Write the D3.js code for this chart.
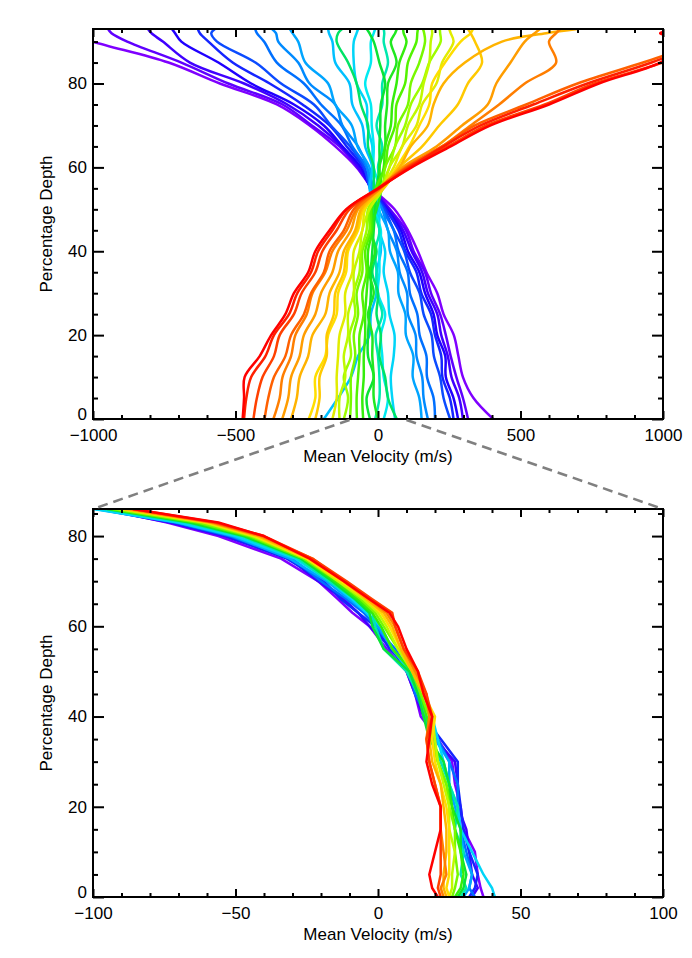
<!DOCTYPE html>
<html>
<head>
<meta charset="utf-8">
<script src="https://cdn.jsdelivr.net/npm/d3@7"></script>
<style>
  body { margin: 0; background: #fff; }
</style>
</head>
<body>
<svg id="chart" width="692" height="958"></svg>
<script>
// ---- data ----
// upper panel: percentage depth levels and mean velocity (m/s) per profile, purple -> red
var depthsTop = [0, 5, 10, 15, 20, 25, 30, 35, 40, 45, 50, 55, 60, 65, 70, 75, 80, 85, 90, 92, 93];
var velocityTop = [
  [404, 335, 298, 282, 266, 230, 208, 170, 140, 105, 58, -20, -75, -150, -240, -355, -555, -735, -1000, -1080, -1120],
  [316, 298, 275, 255, 238, 218, 186, 165, 125, 98, 42, -18, -72, -135, -232, -335, -525, -690, -880, -935, -947],
  [298, 285, 258, 245, 222, 208, 175, 155, 118, 88, 38, -22, -68, -128, -210, -318, -470, -660, -755, -795, -807],
  [281, 265, 238, 236, 208, 195, 165, 145, 105, 80, 32, -25, -60, -125, -190, -295, -445, -560, -690, -712, -723],
  [265, 252, 226, 222, 200, 186, 152, 135, 96, 72, 28, -20, -52, -110, -170, -265, -380, -510, -595, -625, -632],
  [253, 230, 218, 196, 188, 160, 146, 112, 92, 56, 22, -28, -48, -98, -165, -225, -340, -430, -565, -585, -572],
  [200, 195, 172, 170, 146, 138, 112, 104, 72, 55, 15, -15, -40, -90, -128, -200, -260, -355, -400, -425, -431],
  [175, 160, 155, 135, 132, 105, 102, 76, 66, 35, 15, -25, -38, -70, -125, -150, -240, -280, -350, -358, -372],
  [153, 145, 122, 124, 98, 96, 72, 70, 42, 35, 2, -20, -30, -72, -92, -150, -175, -255, -280, -300, -309],
  [-190, -140, -95, -70, -30, -25, -5, -5, 10, 5, -5, -30, -20, -45, -55, -90, -100, -150, -160, -172, -175],
  [60, 50, 45, 55, 58, 40, 35, 20, 25, 5, 5, -10, -20, -20, -38, -40, -75, -85, -85, -75, -70],
  [20, 35, 20, 15, 10, 25, 0, 5, 5, 10, -10, 5, -15, -15, -22, -25, -45, -25, -25, -15, -10],
  [-10, 5, 5, 0, -8, 15, -5, -5, -10, 5, -15, 10, 0, 15, -5, 15, 15, 35, 20, 22, 20],
  [66, 35, 25, 5, 10, -5, 0, -20, -5, -25, -10, -15, -15, -35, -35, -60, -75, -105, -145, -140, -126],
  [-28, -40, -15, -35, -35, -30, -25, -25, -20, -15, -10, -5, 5, 5, 8, 10, 25, 5, -15, -30, -39],
  [0, -15, -15, -20, -20, -35, -15, -30, -10, -25, -5, 12, 5, 25, 25, 32, 35, 65, 45, 60, 66],
  [-52, -55, -50, -50, -45, -45, -40, -35, -35, -20, -20, 0, 20, 25, 45, 50, 65, 75, 100, 90, 88],
  [-74, -75, -70, -65, -65, -50, -55, -40, -45, -25, -25, -8, 25, 35, 60, 65, 95, 105, 135, 138, 140],
  [-98, -95, -95, -80, -85, -70, -75, -55, -55, -30, -30, 15, 25, 60, 70, 105, 115, 145, 165, 162, 158],
  [-120, -105, -120, -95, -100, -80, -85, -65, -60, -40, -35, 8, 40, 60, 95, 115, 155, 180, 220, 218, 217],
  [-135, -135, -115, -120, -105, -105, -85, -85, -65, -55, -30, 18, 40, 85, 105, 145, 160, 180, 185, 190, 189],
  [-160, -145, -145, -140, -135, -115, -115, -90, -85, -55, -45, 10, 55, 85, 135, 155, 205, 225, 265, 255, 250],
  [-243, -220, -220, -185, -175, -145, -140, -112, -105, -70, -50, 15, 65, 110, 145, 180, 190, 235, 290, 325, 333],
  [-220, -205, -205, -180, -180, -155, -150, -120, -110, -75, -55, 20, 75, 155, 215, 280, 315, 365, 340, 325, 316],
  [-305, -285, -275, -245, -230, -185, -170, -135, -120, -80, -60, 5, 75, 115, 175, 195, 230, 305, 435, 590, 700],
  [-336, -315, -305, -275, -260, -220, -200, -160, -140, -95, -70, 10, 85, 205, 295, 385, 415, 465, 515, 550, 568],
  [-367, -345, -335, -305, -290, -250, -230, -185, -160, -110, -75, 8, 95, 225, 325, 425, 515, 625, 600, 625, 639],
  [-398, -385, -365, -325, -305, -260, -235, -190, -170, -120, -85, 0, 100, 225, 340, 520, 700, 930, 1150, 1250, 1300],
  [-437, -425, -405, -365, -345, -295, -268, -220, -195, -145, -100, 5, 105, 245, 380, 585, 760, 1000, 1180, 1300, 1350],
  [-470, -462, -445, -395, -365, -312, -283, -235, -210, -160, -110, 2, 112, 230, 360, 545, 735, 960, 1150, 1250, 1300],
  [-475, -470, -468, -415, -375, -325, -295, -245, -220, -170, -112, 0, 118, 255, 395, 600, 775, 990, 1100, 990, 1050]
];

// lower panel (zoom of -100..100)
var depthsBottom = [0, 2, 5, 10, 15, 20, 25, 30, 35, 40, 45, 50, 55, 60, 63, 66, 70, 75, 80, 83, 86];
var velocityBottom = [
  [37, 36, 35, 34, 30, 29, 27, 26, 21, 15, 13, 10, 3, -3, -9, -14, -21, -34, -56, -74, -96],
  [33, 35, 33, 32, 31, 28, 28, 27, 20, 16, 13, 10, 5, -3, -7, -12, -21, -31, -54, -73, -98],
  [32, 34, 35, 32, 30, 29, 28, 28, 22, 16, 14, 12, 4, -1, -7, -13, -19, -32, -53, -72, -97],
  [34, 32, 33, 31, 29, 28, 28, 25, 21, 17, 13, 11, 6, -1, -5, -11, -20, -30, -52, -71, -99],
  [30, 32, 33, 30, 29, 27, 25, 25, 20, 16, 15, 12, 5, 0, -4, -10, -18, -31, -51, -70, -98],
  [41, 40, 37, 33, 29, 28, 25, 23, 21, 19, 14, 11, 5, 1, -4, -9, -17, -29, -50, -70, -100],
  [29, 31, 29, 30, 27, 28, 25, 22, 19, 17, 14, 10, 2, -1, -2, -8, -17, -28, -48, -67, -96],
  [28, 30, 31, 29, 29, 26, 25, 23, 18, 16, 14, 11, 2, -2, -3, -8, -16, -27, -47, -66, -95],
  [27, 29, 30, 29, 27, 26, 24, 21, 19, 17, 15, 12, 5, 1, -2, -7, -15, -26, -46, -64, -94],
  [26, 27, 28, 27, 27, 25, 24, 21, 19, 18, 15, 12, 7, 2, -1, -6, -14, -26, -45, -63, -93],
  [25, 26, 26, 27, 25, 25, 23, 21, 20, 19, 16, 12, 7, 3, 0, -5, -14, -25, -44, -61, -91],
  [25, 24, 25, 25, 25, 24, 22, 20, 19, 20, 16, 13, 8, 4, 1, -4, -13, -25, -43, -60, -90],
  [24, 23, 23, 24, 24, 23, 22, 19, 18, 19, 16, 12, 8, 5, 2, -4, -12, -24, -42, -59, -89],
  [23, 22, 24, 23, 22, 22, 20, 18, 17, 18, 17, 13, 9, 6, 3, -3, -12, -23, -41, -58, -87],
  [22, 21, 22, 22, 22, 22, 20, 18, 17, 19, 17, 14, 9, 6, 5, -2, -11, -23, -40, -57, -86],
  [21, 19, 18, 20, 22, 22, 19, 17, 18, 19, 16, 14, 10, 7, 4, -3, -12, -24, -40, -56, -86]
];

var topTicks = [-1000, -500, 0, 500, 1000];
var bottomTicks = [-100, -50, 0, 50, 100];
var depthTicks = [0, 20, 40, 60, 80];

// ---- drawing ----
var FONT = '"Liberation Sans", Arial, Helvetica, sans-serif';
var svg = d3.select('#chart');
svg.append('rect').attr('width', 692).attr('height', 958).attr('fill', '#fff');

var rainbow = d3.scaleLinear()
  .domain([0, 0.1, 0.2, 0.3, 0.37, 0.45, 0.55, 0.65, 0.73, 0.83, 0.9, 1])
  .range(['#7f00ff', '#2000ff', '#0070ff', '#00c0ff', '#00ecf0', '#00e040',
          '#40f000', '#b0ff00', '#ffe000', '#ffa000', '#ff6000', '#ff0000']);

function styleAxis(sel) {
  sel.attr('font-family', FONT).attr('font-size', 17);
  sel.select('.domain').remove();
  sel.selectAll('line').attr('stroke', '#000').attr('stroke-width', 2);
  sel.selectAll('text').attr('fill', '#000');
}

function drawPanel(opt) {
  var x = d3.scaleLinear().domain(opt.xDomain).range([opt.left, opt.right]);
  var y = d3.scaleLinear().domain(opt.yDomain).range([opt.bottom, opt.top]);
  var g = svg.append('g');

  g.append('clipPath').attr('id', 'clip-' + opt.name)
    .append('rect')
    .attr('x', opt.left).attr('y', opt.top)
    .attr('width', opt.right - opt.left).attr('height', opt.bottom - opt.top);

  var line = d3.line()
    .x(function(d) { return x(d.v); })
    .y(function(d) { return y(d.d); })
    .curve(opt.curve);

  var n = opt.series.length;
  g.append('g').attr('clip-path', 'url(#clip-' + opt.name + ')')
    .selectAll('path')
    .data(opt.series)
    .enter()
    .append('path')
    .attr('d', function(s) {
      return line(s.map(function(v, k) { return {v: v, d: opt.depths[k]}; }));
    })
    .attr('fill', 'none')
    .attr('stroke', function(s, i) { return rainbow(i / (n - 1)); })
    .attr('stroke-width', 2.5)
    .attr('stroke-linejoin', 'round');

  var minorX = d3.range(opt.xDomain[0], opt.xDomain[1] + 1e-9, opt.xMinor)
    .filter(function(v) { return opt.xTicks.indexOf(v) < 0; });
  var minorY = d3.range(0, opt.yDomain[1], 5)
    .filter(function(v) { return depthTicks.indexOf(v) < 0; });
  var fmt = d3.format('d');

  // x axes (ticks point inward)
  g.append('g').attr('transform', 'translate(0,' + opt.bottom + ')')
    .call(d3.axisBottom(x).tickValues(opt.xTicks).tickSize(-8).tickSizeOuter(0).tickPadding(10).tickFormat(fmt))
    .call(styleAxis);
  g.append('g').attr('transform', 'translate(0,' + opt.bottom + ')')
    .call(d3.axisBottom(x).tickValues(minorX).tickSize(-4).tickSizeOuter(0).tickFormat(''))
    .call(styleAxis);
  g.append('g').attr('transform', 'translate(0,' + opt.top + ')')
    .call(d3.axisTop(x).tickValues(opt.xTicks).tickSize(-8).tickSizeOuter(0).tickFormat(''))
    .call(styleAxis);
  g.append('g').attr('transform', 'translate(0,' + opt.top + ')')
    .call(d3.axisTop(x).tickValues(minorX).tickSize(-4).tickSizeOuter(0).tickFormat(''))
    .call(styleAxis);

  // y axes
  var left = g.append('g').attr('transform', 'translate(' + opt.left + ',0)')
    .call(d3.axisLeft(y).tickValues(depthTicks).tickSize(-11).tickSizeOuter(0).tickPadding(6).tickFormat(fmt))
    .call(styleAxis);
  // the zero label sits a little higher, clear of the x labels
  left.selectAll('text').filter(function(d) { return d === 0; }).attr('dy', '0.02em');
  g.append('g').attr('transform', 'translate(' + opt.left + ',0)')
    .call(d3.axisLeft(y).tickValues(minorY).tickSize(-5).tickSizeOuter(0).tickFormat(''))
    .call(styleAxis);
  g.append('g').attr('transform', 'translate(' + opt.right + ',0)')
    .call(d3.axisRight(y).tickValues(depthTicks).tickSize(-11).tickSizeOuter(0).tickFormat(''))
    .call(styleAxis);
  g.append('g').attr('transform', 'translate(' + opt.right + ',0)')
    .call(d3.axisRight(y).tickValues(minorY).tickSize(-5).tickSizeOuter(0).tickFormat(''))
    .call(styleAxis);

  g.append('rect')
    .attr('x', opt.left).attr('y', opt.top)
    .attr('width', opt.right - opt.left).attr('height', opt.bottom - opt.top)
    .attr('fill', 'none').attr('stroke', '#000').attr('stroke-width', 2);

  g.append('text')
    .attr('x', (opt.left + opt.right) / 2).attr('y', opt.bottom + 43)
    .attr('text-anchor', 'middle').attr('font-family', FONT).attr('font-size', 17)
    .text('Mean Velocity (m/s)');
  g.append('text')
    .attr('transform', 'translate(52,' + (opt.top + opt.bottom) / 2 + ') rotate(-90)')
    .attr('text-anchor', 'middle').attr('font-family', FONT).attr('font-size', 17)
    .text('Percentage Depth');

  return {x: x, y: y};
}

var upper = drawPanel({
  name: 'top', left: 93, right: 663, top: 29, bottom: 419,
  xDomain: [-1000, 1000], yDomain: [0, 93], xTicks: topTicks, xMinor: 100,
  depths: depthsTop, series: velocityTop, curve: d3.curveCatmullRom
});
var lower = drawPanel({
  name: 'bottom', left: 93, right: 663, top: 509, bottom: 897,
  xDomain: [-100, 100], yDomain: [0, 86], xTicks: bottomTicks, xMinor: 10,
  depths: depthsBottom, series: velocityBottom, curve: d3.curveLinear
});

// dashed zoom guides from the upper axis to the lower frame corners
[-100, 100].forEach(function(v) {
  svg.append('line')
    .attr('x1', upper.x(v)).attr('y1', upper.y(0) + 1)
    .attr('x2', lower.x(v)).attr('y2', lower.y(86))
    .attr('stroke', '#808080').attr('stroke-width', 2.5)
    .attr('stroke-dasharray', '10,6');
});
</script>
</body>
</html>
